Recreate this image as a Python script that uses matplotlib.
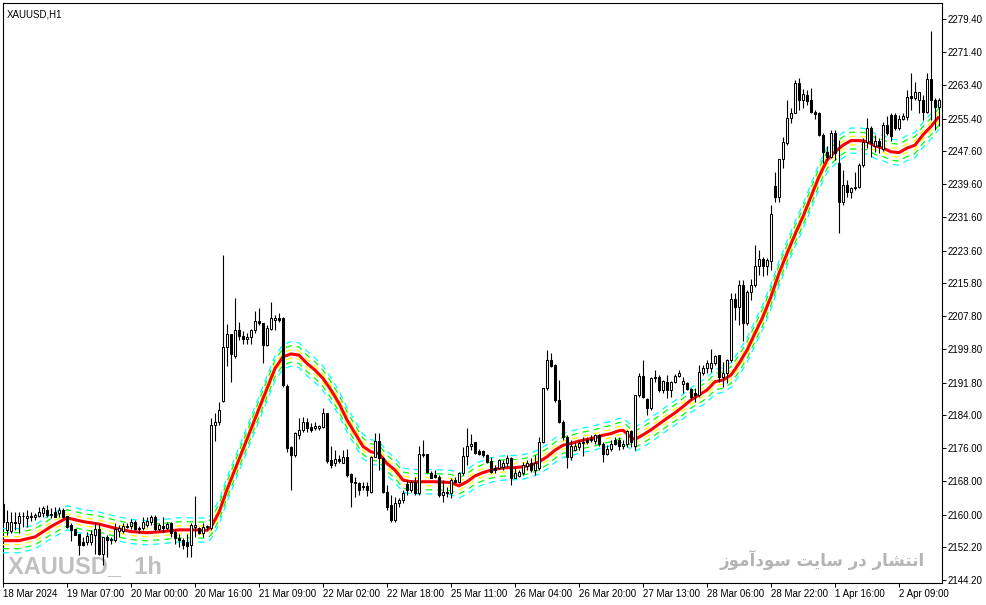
import numpy as np
import matplotlib
matplotlib.use("Agg")
import matplotlib.pyplot as plt

# hourly candles, XAUUSD H1, 18 Mar - 2 Apr 2024
o = [2162.5, 2156.3, 2156.1, 2158.3, 2157.9, 2159.7, 2159.2, 2159.7, 2159.5, 2159.7,
     2160.3, 2161.2, 2160.0, 2160.7, 2160.3, 2161.1, 2159.7, 2157.5, 2156.4, 2155.3,
     2153.4, 2153.4, 2153.4, 2155.1, 2156.4, 2150.6, 2154.7, 2154.2, 2153.8, 2156.0,
     2156.0, 2157.3, 2157.3, 2158.3, 2156.8, 2156.7, 2157.5, 2158.3, 2159.5, 2156.4,
     2157.2, 2156.7, 2157.9, 2155.8, 2154.3, 2153.9, 2153.4, 2152.6, 2157.0, 2156.7,
     2155.5, 2157.1, 2156.7, 2181.5, 2182.3, 2187.4, 2200.4, 2203.4, 2198.2, 2204.5,
     2203.0, 2202.4, 2202.7, 2204.5, 2206.6, 2206.1, 2200.8, 2204.7, 2206.9, 2207.3,
     2207.3, 2191.0, 2176.2, 2174.3, 2179.2, 2180.4, 2182.4, 2181.2, 2180.8, 2180.8,
     2181.2, 2184.4, 2173.1, 2172.3, 2173.3, 2172.5, 2173.9, 2169.8, 2167.9, 2167.5,
     2166.6, 2166.9, 2165.5, 2173.9, 2177.6, 2173.5, 2165.5, 2162.3, 2158.7, 2162.7,
     2163.5, 2167.3, 2165.9, 2167.9, 2165.1, 2174.7, 2174.5, 2170.1, 2169.5, 2169.1,
     2164.7, 2165.5, 2165.1, 2168.3, 2167.9, 2169.9, 2174.1, 2176.5, 2177.4, 2175.3,
     2175.3, 2174.3, 2172.9, 2171.1, 2171.1, 2171.5, 2172.3, 2173.5, 2168.9, 2169.3,
     2169.9, 2171.7, 2172.3, 2170.7, 2171.1, 2177.5, 2190.4, 2197.2, 2196.0, 2187.6,
     2182.4, 2178.7, 2173.8, 2175.5, 2176.2, 2177.3, 2177.9, 2177.9, 2177.8, 2179.1,
     2177.1, 2174.6, 2175.7, 2177.9, 2177.9, 2176.5, 2177.1, 2180.2, 2176.5, 2188.8,
     2193.4, 2187.8, 2185.6, 2192.8, 2193.2, 2189.9, 2192.0, 2189.9, 2192.0, 2193.4,
     2191.4, 2191.8, 2190.2, 2189.2, 2188.8, 2194.2, 2195.2, 2195.2, 2196.6, 2198.4,
     2193.2, 2194.0, 2197.2, 2211.9, 2209.9, 2215.3, 2206.1, 2213.7, 2215.3, 2219.9,
     2221.5, 2219.9, 2221.2, 2239.2, 2236.6, 2245.6, 2249.5, 2255.5, 2256.8, 2263.9,
     2259.9, 2261.1, 2259.9, 2257.1, 2256.8, 2251.5, 2247.4, 2246.2, 2252.0, 2244.6,
     2235.4, 2239.4, 2237.6, 2238.6, 2238.8, 2244.2, 2249.8, 2253.1, 2248.8, 2249.9,
     2248.0, 2253.9, 2256.3, 2256.3, 2253.1, 2255.2, 2255.9, 2260.9, 2260.3, 2260.0,
     2260.0, 2257.1, 2264.9, 2260.0, 2258.1]
h = [2163.2, 2161.0, 2160.7, 2160.7, 2160.7, 2160.7, 2161.1, 2160.5, 2160.3, 2161.9,
     2162.0, 2162.3, 2161.5, 2161.9, 2161.9, 2161.5, 2159.7, 2157.9, 2156.5, 2155.4,
     2154.6, 2155.9, 2156.3, 2158.3, 2157.9, 2154.6, 2155.0, 2154.6, 2157.9, 2157.4,
     2157.9, 2157.9, 2159.0, 2158.7, 2157.2, 2159.5, 2159.5, 2159.9, 2159.9, 2157.9,
     2159.5, 2158.3, 2158.3, 2156.2, 2155.4, 2154.3, 2155.4, 2157.9, 2164.5, 2157.1,
     2157.9, 2157.5, 2183.2, 2184.4, 2187.0, 2222.5, 2205.9, 2203.6, 2212.1, 2206.5,
     2204.1, 2203.8, 2204.6, 2209.0, 2209.7, 2206.1, 2205.7, 2211.1, 2208.1, 2208.6,
     2207.7, 2191.4, 2176.4, 2180.0, 2183.2, 2183.6, 2183.2, 2182.0, 2182.4, 2181.6,
     2185.6, 2184.5, 2176.4, 2175.6, 2174.3, 2175.6, 2175.7, 2169.9, 2169.1, 2167.9,
     2167.9, 2167.9, 2174.1, 2179.6, 2179.7, 2173.9, 2167.1, 2164.7, 2164.3, 2163.9,
     2165.9, 2168.3, 2168.3, 2169.1, 2176.5, 2177.9, 2174.7, 2170.5, 2170.7, 2169.5,
     2168.3, 2166.7, 2168.7, 2169.1, 2170.3, 2176.3, 2180.8, 2179.5, 2177.5, 2175.9,
     2175.5, 2174.5, 2173.9, 2171.9, 2173.3, 2173.1, 2174.3, 2173.9, 2171.1, 2170.7,
     2172.7, 2173.1, 2173.5, 2174.3, 2178.7, 2190.6, 2199.6, 2198.8, 2196.2, 2192.4,
     2182.8, 2179.1, 2177.9, 2177.5, 2177.9, 2178.7, 2178.7, 2179.1, 2179.5, 2179.5,
     2177.5, 2176.7, 2177.9, 2178.7, 2178.7, 2177.9, 2180.4, 2180.4, 2188.8, 2194.0,
     2197.2, 2188.0, 2193.2, 2194.8, 2193.6, 2192.4, 2193.6, 2192.2, 2193.9, 2194.8,
     2193.2, 2192.0, 2190.4, 2190.4, 2196.0, 2196.0, 2197.2, 2200.0, 2198.4, 2198.4,
     2196.8, 2197.4, 2213.3, 2213.3, 2216.5, 2216.5, 2214.1, 2216.7, 2224.9, 2223.7,
     2222.1, 2221.7, 2234.6, 2242.6, 2245.6, 2250.9, 2259.9, 2257.9, 2264.7, 2265.1,
     2262.5, 2262.3, 2262.7, 2257.5, 2257.1, 2252.0, 2248.7, 2252.7, 2252.7, 2250.3,
     2243.0, 2240.6, 2239.0, 2242.6, 2244.6, 2250.7, 2255.5, 2253.5, 2251.5, 2250.7,
     2254.7, 2256.0, 2256.7, 2256.7, 2256.3, 2256.7, 2262.3, 2266.3, 2264.3, 2261.9,
     2261.1, 2266.5, 2276.6, 2260.3, 2260.3]
l = [2157.8, 2155.0, 2155.5, 2156.3, 2155.5, 2157.1, 2157.1, 2158.5, 2158.7, 2159.5,
     2159.5, 2159.5, 2159.1, 2159.5, 2159.5, 2159.1, 2156.7, 2153.5, 2155.0, 2150.2,
     2152.3, 2152.6, 2152.6, 2150.6, 2150.3, 2147.8, 2149.8, 2153.0, 2153.4, 2154.6,
     2155.5, 2156.7, 2156.6, 2156.2, 2155.5, 2156.3, 2157.0, 2157.5, 2156.0, 2156.0,
     2155.9, 2156.2, 2154.6, 2153.0, 2152.2, 2151.8, 2149.8, 2149.8, 2154.6, 2155.3,
     2154.7, 2156.3, 2156.3, 2177.8, 2181.6, 2187.0, 2195.8, 2192.0, 2197.6, 2202.1,
     2201.1, 2201.2, 2201.2, 2203.8, 2205.7, 2196.4, 2200.6, 2204.5, 2204.5, 2206.5,
     2190.8, 2175.1, 2165.9, 2173.9, 2178.1, 2180.0, 2180.0, 2180.0, 2180.4, 2180.4,
     2180.8, 2172.3, 2171.1, 2171.7, 2172.3, 2172.3, 2169.1, 2161.9, 2164.3, 2164.7,
     2165.9, 2164.5, 2165.3, 2173.8, 2170.7, 2165.1, 2161.1, 2158.3, 2158.3, 2161.9,
     2162.7, 2164.7, 2165.5, 2164.7, 2164.7, 2173.9, 2169.9, 2168.7, 2168.7, 2164.3,
     2163.1, 2164.3, 2163.9, 2167.5, 2167.5, 2169.5, 2171.9, 2175.5, 2174.7, 2174.3,
     2173.9, 2172.5, 2170.1, 2170.1, 2170.9, 2170.7, 2171.5, 2167.1, 2168.7, 2169.1,
     2169.5, 2170.7, 2170.3, 2169.5, 2170.7, 2177.3, 2190.0, 2195.6, 2187.2, 2182.1,
     2177.9, 2171.1, 2173.1, 2175.4, 2175.5, 2174.1, 2177.1, 2177.5, 2177.1, 2176.5,
     2172.7, 2174.3, 2175.4, 2176.7, 2175.5, 2175.9, 2176.3, 2176.3, 2175.5, 2188.4,
     2188.0, 2184.0, 2185.2, 2192.0, 2189.6, 2189.2, 2188.0, 2188.4, 2191.6, 2193.2,
     2189.2, 2190.0, 2187.6, 2187.2, 2188.4, 2193.6, 2194.0, 2194.4, 2196.0, 2192.0,
     2190.8, 2191.8, 2196.8, 2206.9, 2205.7, 2201.7, 2205.7, 2211.7, 2214.9, 2217.7,
     2217.5, 2217.7, 2218.9, 2235.4, 2235.2, 2243.4, 2249.0, 2254.3, 2256.7, 2257.5,
     2257.9, 2258.7, 2256.7, 2255.2, 2251.1, 2244.6, 2245.4, 2245.8, 2245.4, 2227.8,
     2234.6, 2236.6, 2236.2, 2238.2, 2238.6, 2243.8, 2248.3, 2246.2, 2247.4, 2247.0,
     2247.7, 2251.5, 2249.9, 2252.7, 2252.7, 2255.1, 2255.1, 2257.5, 2259.9, 2256.7,
     2255.1, 2256.7, 2255.1, 2252.7, 2253.5]
c = [2158.3, 2158.3, 2158.1, 2158.0, 2159.7, 2159.6, 2159.7, 2159.3, 2159.9, 2160.7,
     2161.6, 2160.0, 2160.2, 2159.5, 2161.2, 2159.5, 2157.1, 2156.3, 2155.1, 2152.6,
     2152.6, 2154.9, 2155.4, 2156.4, 2150.4, 2154.6, 2153.8, 2153.9, 2156.6, 2156.7,
     2157.3, 2157.0, 2158.3, 2156.4, 2156.6, 2158.3, 2158.4, 2159.5, 2156.4, 2157.5,
     2156.7, 2157.7, 2155.6, 2154.3, 2153.9, 2152.6, 2152.5, 2157.5, 2157.5, 2155.5,
     2157.1, 2157.3, 2181.5, 2182.3, 2185.2, 2200.4, 2203.4, 2198.6, 2204.5, 2202.9,
     2202.2, 2202.7, 2204.5, 2206.7, 2206.1, 2200.8, 2204.9, 2207.3, 2207.3, 2206.9,
     2191.2, 2176.0, 2174.3, 2179.6, 2180.4, 2182.4, 2180.8, 2180.4, 2181.4, 2181.3,
     2184.4, 2173.0, 2171.9, 2173.3, 2173.0, 2173.9, 2169.5, 2167.9, 2167.5, 2165.9,
     2166.9, 2165.8, 2173.9, 2177.6, 2173.5, 2165.5, 2161.9, 2158.7, 2162.7, 2163.5,
     2165.1, 2165.9, 2167.9, 2165.1, 2174.7, 2174.3, 2170.3, 2168.9, 2169.1, 2164.7,
     2165.5, 2165.1, 2168.3, 2167.9, 2169.9, 2174.1, 2176.5, 2177.1, 2174.9, 2174.6,
     2174.3, 2172.7, 2170.3, 2170.7, 2173.1, 2172.5, 2173.5, 2168.9, 2170.1, 2170.3,
     2171.9, 2172.5, 2170.7, 2172.3, 2177.5, 2190.4, 2197.2, 2195.8, 2187.6, 2182.4,
     2178.7, 2173.8, 2176.5, 2176.5, 2177.3, 2177.5, 2177.5, 2178.3, 2179.1, 2177.1,
     2174.7, 2175.7, 2177.1, 2177.1, 2176.5, 2177.1, 2180.2, 2177.5, 2188.8, 2193.4,
     2188.4, 2185.6, 2192.8, 2193.2, 2189.9, 2192.2, 2189.9, 2192.0, 2193.4, 2194.2,
     2192.2, 2190.2, 2188.4, 2188.8, 2194.4, 2195.2, 2196.4, 2196.6, 2198.2, 2193.2,
     2194.2, 2197.2, 2211.9, 2209.9, 2215.3, 2206.1, 2213.7, 2215.3, 2219.9, 2221.5,
     2219.9, 2221.3, 2232.5, 2236.6, 2245.6, 2249.8, 2255.5, 2256.8, 2263.9, 2259.9,
     2261.3, 2259.7, 2257.1, 2256.5, 2251.5, 2247.4, 2246.2, 2252.0, 2247.0, 2235.4,
     2239.4, 2237.6, 2238.6, 2238.8, 2244.2, 2249.8, 2253.1, 2249.5, 2250.1, 2248.7,
     2253.9, 2251.9, 2251.2, 2253.1, 2255.2, 2256.0, 2260.5, 2260.3, 2261.9, 2261.9,
     2257.1, 2264.9, 2260.0, 2258.1, 2259.9]

# red moving average at these bars
ma_bar = [0, 4, 8, 12, 16, 20, 24, 28, 32, 36, 40, 44, 48, 51, 52, 54, 56, 60, 64, 68,
          70, 72, 74, 76, 78, 80, 82, 84, 86, 88, 90, 92, 94, 96, 98, 100, 102, 108, 112, 114,
          116, 118, 120, 122, 124, 126, 128, 130, 132, 134, 136, 138, 140, 142, 144, 146, 148, 150, 152, 154,
          155, 157, 158, 160, 162, 164, 166, 168, 170, 172, 174, 176, 178, 180, 182, 184, 186, 188, 190, 192,
          194, 196, 198, 200, 202, 204, 206, 208, 210, 212, 214, 216, 218, 220, 222, 224, 226, 228, 230, 232,
          234]
ma_val = [2153.7, 2153.7, 2154.6, 2157.1, 2159.2, 2158.3, 2157.7, 2156.7, 2155.9, 2155.6,
          2155.9, 2156.3, 2156.3, 2156.2, 2157.0, 2160.5, 2166.0, 2175.7, 2185.5, 2195.2,
          2198.0, 2198.7, 2198.4, 2196.4, 2194.8, 2192.8, 2190.0, 2186.8, 2182.8, 2179.6,
          2176.4, 2175.1, 2174.7, 2172.3, 2170.7, 2168.3, 2167.9, 2167.9, 2167.7, 2166.9,
          2167.9, 2169.3, 2170.1, 2170.7, 2171.1, 2171.3, 2171.3, 2171.5, 2171.9, 2172.7,
          2173.9, 2175.5, 2176.7, 2177.1, 2177.7, 2178.1, 2178.5, 2179.1, 2179.5, 2180.2,
          2180.3, 2178.6, 2178.1, 2179.2, 2180.4, 2181.8, 2183.2, 2184.5, 2186.0, 2187.6,
          2188.8, 2190.0, 2192.0, 2192.4, 2193.6, 2196.4, 2199.6, 2203.7, 2207.7, 2212.5,
          2218.1, 2222.9, 2227.5, 2231.8, 2236.6, 2241.4, 2245.4, 2247.4, 2249.0, 2250.1,
          2250.1, 2249.9, 2248.8, 2248.3, 2247.4, 2247.2, 2248.3, 2249.0, 2251.5, 2253.5,
          2255.9]

# envelope deviations (percent) and colours, inner to outer
env_pct = [0.045, 0.09, 0.135]
env_col = ["#ffff00", "#00ff00", "#00ffff"]

tick_bar = [0, 16, 32, 48, 64, 80, 96, 112, 128, 144, 160, 176, 192, 208, 224]
tick_txt = ["18 Mar 2024", "19 Mar 07:00", "20 Mar 00:00", "20 Mar 16:00", "21 Mar 09:00",
            "22 Mar 02:00", "22 Mar 18:00", "25 Mar 11:00", "26 Mar 04:00", "26 Mar 20:00",
            "27 Mar 13:00", "28 Mar 06:00", "28 Mar 22:00", "1 Apr 16:00", "2 Apr 09:00"]
price_ticks = [2279.40, 2271.40, 2263.40, 2255.40, 2247.60, 2239.60, 2231.60, 2223.60, 2215.80,
               2207.80, 2199.80, 2191.80, 2184.00, 2176.00, 2168.00, 2160.00, 2152.20, 2144.20]

watermark_fa = "انتشار در سایت سودآموز"

# presentation forms: isolated, final, initial, medial
FORMS = {
    "ا": ("\ufe8d", "\ufe8e", None, None),
    "آ": ("\ufe81", "\ufe82", None, None),
    "د": ("\ufea9", "\ufeaa", None, None),
    "ر": ("\ufead", "\ufeae", None, None),
    "ز": ("\ufeaf", "\ufeb0", None, None),
    "و": ("\ufeed", "\ufeee", None, None),
    "ن": ("\ufee5", "\ufee6", "\ufee7", "\ufee8"),
    "ت": ("\ufe95", "\ufe96", "\ufe97", "\ufe98"),
    "ش": ("\ufeb5", "\ufeb6", "\ufeb7", "\ufeb8"),
    "س": ("\ufeb1", "\ufeb2", "\ufeb3", "\ufeb4"),
    "م": ("\ufee1", "\ufee2", "\ufee3", "\ufee4"),
    "ی": ("\ufbfc", "\ufbfd", "\ufbfe", "\ufbff"),
}


def shape_fa(text):
    # matplotlib has no arabic shaping, so pick the joined forms by hand
    out = []
    for i, ch in enumerate(text):
        if ch not in FORMS:
            out.append(ch)
            continue
        f = FORMS[ch]
        prev = text[i - 1] if i > 0 else ""
        nxt = text[i + 1] if i + 1 < len(text) else ""
        jp = prev in FORMS and FORMS[prev][2] is not None
        jn = f[2] is not None and nxt in FORMS
        if jp and jn:
            out.append(f[3])
        elif jp:
            out.append(f[1])
        elif jn:
            out.append(f[2])
        else:
            out.append(f[0])
    return "".join(reversed(out))


W, H = 987, 605
fig = plt.figure(figsize=(W / 100, H / 100), dpi=100)
left, right, top, bottom = 2.7, 941.7, 2.7, 583
ax = fig.add_axes([left / W, 1 - bottom / H, (right - left) / W, (bottom - top) / H])

x = np.arange(len(c))
o_a, h_a, l_a, c_a = map(np.array, (o, h, l, c))

# candles
ax.vlines(x, l_a, h_a, color="black", lw=0.8, zorder=4)
up = c_a >= o_a
body_lo = np.minimum(o_a, c_a)
body_h = np.abs(c_a - o_a)
ax.bar(x[up], body_h[up], bottom=body_lo[up], width=0.5, color="white",
       edgecolor="black", linewidth=0.75, zorder=5)
ax.bar(x[~up], body_h[~up], bottom=body_lo[~up], width=0.5, color="black",
       edgecolor="black", linewidth=0.75, zorder=5)

# moving average + envelopes
ma_x = np.array(ma_bar)
ma_y = np.array(ma_val)
for pct, col in zip(env_pct, env_col):
    for sgn in (1, -1):
        ax.plot(ma_x, ma_y * (1 + sgn * pct / 100), color=col, lw=0.9,
                linestyle=(0, (5, 4)), zorder=3)
ax.plot(ma_x, ma_y, color="#ff0000", lw=2.2, zorder=3.5, solid_capstyle="butt")

# axes scaling: 4 px per bar, 4.15 px per dollar
ax.set_xlim((left - 3) / 4, (right - 3) / 4)
ax.set_ylim(2279.4 - (bottom - 19) / 4.15, 2279.4 + (19 - top) / 4.15)

ax.yaxis.tick_right()
ax.set_yticks(price_ticks)
ax.set_yticklabels([f"{p:.2f}" for p in price_ticks])
ax.set_xticks(tick_bar)
ax.set_xticklabels(tick_txt)
for lbl in ax.get_xticklabels():
    lbl.set_ha("left")
ax.tick_params(axis="both", direction="out", length=3, width=0.7, color="black",
               labelsize=7, pad=1.5)
for lbl in ax.get_xticklabels() + ax.get_yticklabels():
    lbl.set_family(["Liberation Sans", "DejaVu Sans"])
for sp in ax.spines.values():
    sp.set_linewidth(0.8)
    sp.set_color("black")

ax.text(0.004, 0.988, "XAUUSD,H1", transform=ax.transAxes, fontsize=7,
        family=["Liberation Sans", "DejaVu Sans"], va="top", ha="left")

ax.text(5 / (right - left), 0.008, "XAUUSD_  1h", transform=ax.transAxes,
        fontsize=17, fontweight="heavy", color="#c0c0c0", ha="left", va="bottom",
        family=["Liberation Sans", "DejaVu Sans"], zorder=1)
ax.text((925 - left) / (right - left), 0.022, shape_fa(watermark_fa), transform=ax.transAxes,
        fontsize=12, fontweight="bold", color="#b4b4b4", ha="right", va="bottom",
        family=["DejaVu Sans"], zorder=1)

fig.savefig("out.png", dpi=100)
